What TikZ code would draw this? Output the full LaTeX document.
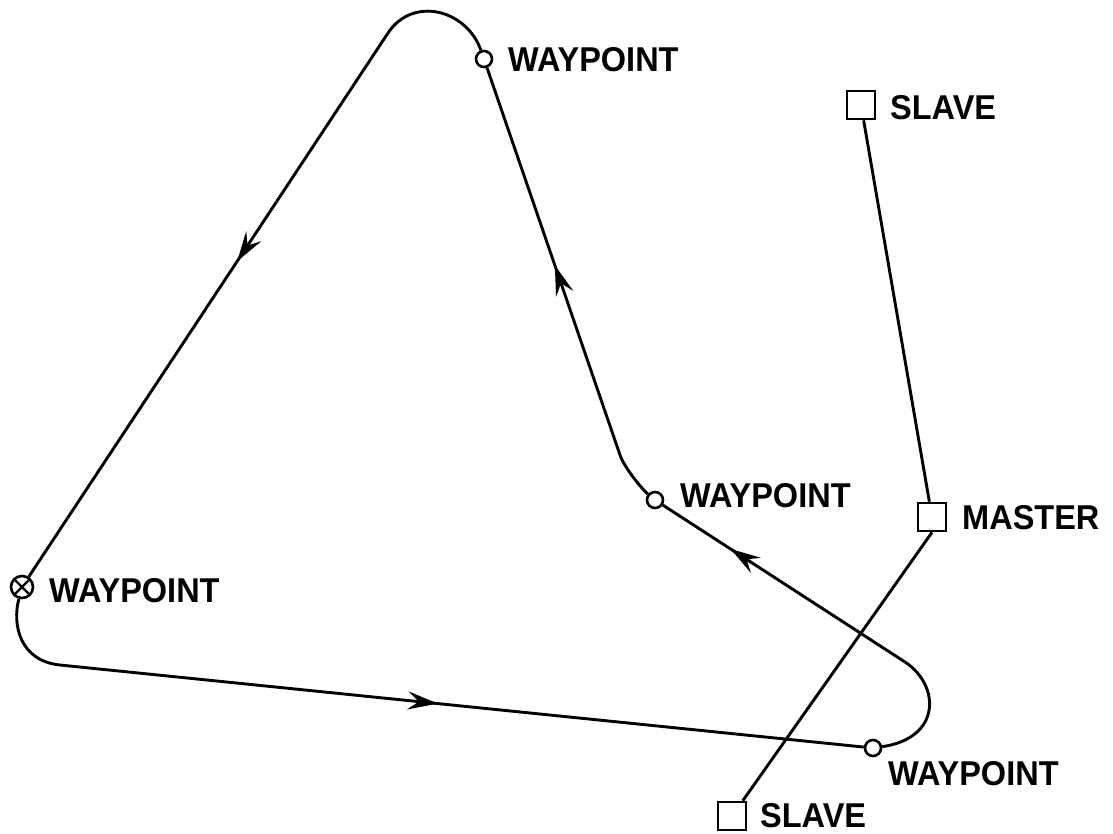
\documentclass[tikz,border=0pt]{standalone}
\usepackage{fontspec}
\newfontfamily\labfont{Liberation Sans}
\usetikzlibrary{arrows.meta,decorations.markings}
\tikzset{
  ln/.style={line width=2.9pt},
  wp/.style={circle, draw, line width=2.6pt, minimum size=16pt, inner sep=0pt, fill=white},
  wpx/.style={circle, draw, line width=2.6pt, minimum size=22pt, inner sep=0pt, fill=white,
    path picture={\draw[line width=2.4pt] (path picture bounding box.north west)--(path picture bounding box.south east)
      (path picture bounding box.north east)--(path picture bounding box.south west);}},
  sq/.style={rectangle, draw, line width=2.6pt, minimum size=28pt, inner sep=0pt},
  lbl/.style={font=\labfont\bfseries\fontsize{32.5}{33}\selectfont, anchor=west, inner sep=0pt, yscale=1.06},
  midarrow/.style={decoration={markings, mark=at position #1 with {\arrow{Stealth[length=30pt,width=18pt,inset=11pt]}}}, postaction={decorate}}
}
\begin{document}
\begin{tikzpicture}[x=1pt,y=-1pt]
\useasboundingbox (0,0) rectangle (1113,833);
% waypoints
\node[wpx] (wpX) at (22,587) {};
\node[wp] (wpT) at (484,59) {};
\node[wp] (wpM) at (655,500) {};
\node[wp] (wpR) at (873,748) {};
% stations
\node[sq] (s1) at (861,105) {};
\node[sq] (m) at (932,517) {};
\node[sq] (s2) at (732,816) {};
% path corners
\coordinate (a1) at (388,33);
\coordinate (b1) at (620,455);
\coordinate (c1) at (905,662);
\coordinate (d1) at (60,665);
% track
\draw[ln, midarrow=0.42] (a1) -- (wpX);
\draw[ln] (a1) .. controls (412.75,-4.35) and (466.4,9.4) .. (wpT);
\draw[ln, midarrow=0.49] (b1) -- (wpT);
\draw[ln] (b1) .. controls (625,469) and (643,490) .. (wpM);
\draw[ln, midarrow=0.72] (c1) -- (wpM);
\draw[ln] (c1) .. controls (940,685) and (942,738) .. (wpR);
\draw[ln, midarrow=0.47] (d1) -- (wpR);
\draw[ln] (d1) .. controls (20,661) and (12,625) .. (wpX);
% master/slave baselines
\draw[ln] (s1) -- (m);
\draw[ln] (m.south) -- (s2);
% labels
\node[lbl] (lT) at (508,60) {WAYPOINT};
\node[lbl] (lM) at (680,496) {WAYPOINT};
\node[lbl] (lX) at (49,591) {WAYPOINT};
\node[lbl] (lR) at (888,774) {WAYPOINT};
\node[lbl] (lS1) at (890,108) {SLAVE};
\node[lbl] (lMa) at (962,518) {MASTER};
\node[lbl] (lS2) at (760,816) {SLAVE};
\end{tikzpicture}
\end{document}
